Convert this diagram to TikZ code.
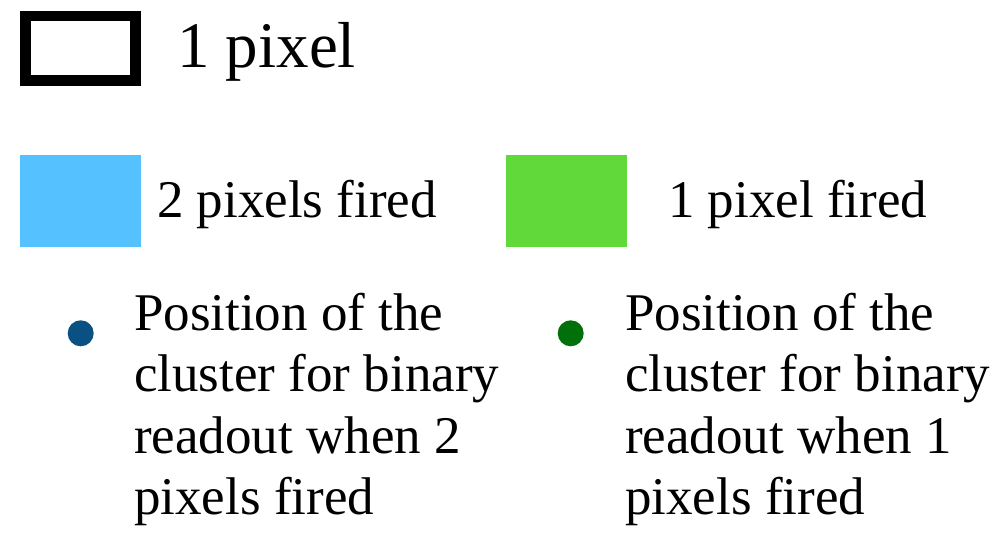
\documentclass[tikz,border=0pt]{standalone}
\usepackage{fontspec}
\setmainfont{Liberation Serif}
\definecolor{twofired}{RGB}{85,193,255}
\definecolor{onefired}{RGB}{98,217,58}
\definecolor{twodot}{RGB}{10,80,130}
\definecolor{onedot}{RGB}{0,112,10}
\tikzset{
  legtext/.style={anchor=base west, inner sep=0pt, font=\fontsize{53}{61.5}\selectfont},
  bigtext/.style={anchor=base west, inner sep=0pt, font=\fontsize{65}{75}\selectfont},
  swatch/.style={draw=none, minimum width=121pt, minimum height=92pt, inner sep=0pt, anchor=north west},
  posdot/.style={circle, minimum size=26pt, inner sep=0pt},
  para/.style={legtext, align=left}
}
\begin{document}
\begin{tikzpicture}[x=1pt,y=-1pt]
\useasboundingbox (0,0) rectangle (998,534);
% pixel outline
\node[draw=black, line width=10.5pt, minimum width=109.7pt, minimum height=64.1pt, inner sep=0pt, anchor=center] (pix) at (80.55,48.25) {};
\node[bigtext] (pixlabel) at (177,68) {1 pixel};
% swatches
\node[swatch, fill=twofired] (two) at (20,155) {};
\node[legtext] (twolabel) at (157,218) {2 pixels fired};
\node[swatch, fill=onefired] (one) at (506,155) {};
\node[legtext] (onelabel) at (668,218) {1 pixel fired};
% dots (base anchor of a multi-line node = last line's baseline)
\node[posdot, fill=twodot] (twopos) at (80.7,333.3) {};
\node[para] (twotext) at (134,514.5) {Position of the\\cluster for binary\\readout when 2\\pixels fired};
\node[posdot, fill=onedot] (onepos) at (570.7,333.3) {};
\node[para] (onetext) at (625,514.5) {Position of the\\cluster for binary\\readout when 1\\pixels fired};
\end{tikzpicture}
\end{document}
